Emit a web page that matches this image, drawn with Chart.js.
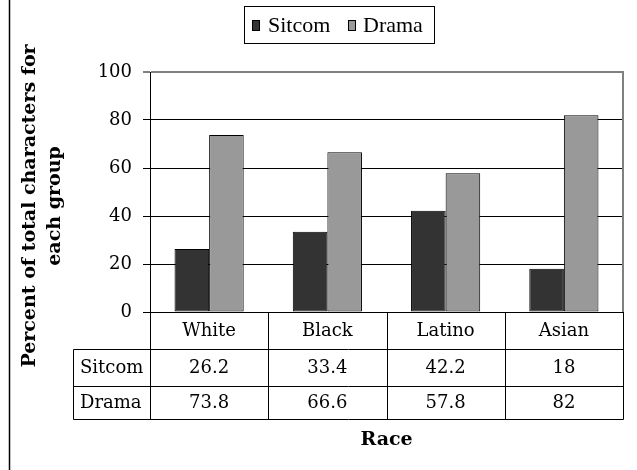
<!DOCTYPE html>
<html>
<head>
<meta charset="utf-8">
<script src="https://cdn.jsdelivr.net/npm/chart.js@4/dist/chart.umd.min.js"></script>
<style>
  html, body { margin: 0; padding: 0; background: #ffffff; }
  canvas { display: block; }
</style>
</head>
<body>
<canvas id="chart" width="637" height="470"></canvas>
<script>
// Share of characters per racial group, sitcoms vs. dramas
const categories = ['White', 'Black', 'Latino', 'Asian'];
const sitcomValues = [26.2, 33.4, 42.2, 18];
const dramaValues = [73.8, 66.6, 57.8, 82];
const seriesNames = ['Sitcom', 'Drama'];
const yTitleLines = ['Percent of total characters for', 'each group'];
const xTitle = 'Race';

const SERIF = '"DejaVu Serif", "Liberation Serif", serif';
const LEGEND_FONT = '"Liberation Serif", "Times New Roman", serif';

// Legend, data table under the axis, axis titles and frame lines
const decorations = {
  id: 'decorations',
  afterDraw(chart) {
    const ctx = chart.ctx;
    const area = chart.chartArea;
    const x = chart.scales.x;
    const ds = chart.data.datasets;

    ctx.save();

    // right edge of the plot area
    ctx.strokeStyle = '#808080';
    ctx.lineWidth = 2;
    ctx.beginPath();
    ctx.moveTo(area.right, area.top - 1);
    ctx.lineTo(area.right, area.bottom);
    ctx.stroke();

    // data table
    const rowH = [37, 37, 33];
    const headerBottom = area.bottom + rowH[0];
    const row1Bottom = headerBottom + rowH[1];
    const tableBottom = row1Bottom + rowH[2];
    const labelLeft = 73.5;
    const edges = [];
    for (let i = 0; i <= categories.length; i++) {
      const px = i === 0 ? area.left
        : i === categories.length ? area.right
        : (x.getPixelForValue(i - 1) + x.getPixelForValue(i)) / 2;
      edges.push(Math.round(px) + 0.5);
    }

    ctx.strokeStyle = '#000000';
    ctx.lineWidth = 1;
    ctx.beginPath();
    // horizontal rules
    [headerBottom, row1Bottom, tableBottom].forEach(yy => {
      ctx.moveTo(labelLeft, Math.round(yy) + 0.5);
      ctx.lineTo(edges[edges.length - 1], Math.round(yy) + 0.5);
    });
    // vertical rules
    edges.forEach((ex, i) => {
      ctx.moveTo(ex, i === 0 ? area.top : area.bottom);
      ctx.lineTo(ex, Math.round(tableBottom) + 0.5);
    });
    ctx.moveTo(labelLeft, Math.round(headerBottom) + 0.5);
    ctx.lineTo(labelLeft, Math.round(tableBottom) + 0.5);
    ctx.stroke();

    ctx.fillStyle = '#000000';
    ctx.font = '18px ' + SERIF;
    ctx.textBaseline = 'middle';
    ctx.textAlign = 'center';
    const yHeader = (area.bottom + headerBottom) / 2 + 1;
    const yRow1 = (headerBottom + row1Bottom) / 2 + 1;
    const yRow2 = (row1Bottom + tableBottom) / 2 + 1;
    categories.forEach((c, i) => {
      const cx = x.getPixelForValue(i);
      ctx.fillText(c, cx, yHeader);
      ctx.fillText(String(ds[0].data[i]), cx, yRow1);
      ctx.fillText(String(ds[1].data[i]), cx, yRow2);
    });
    ctx.textAlign = 'left';
    ctx.fillText(ds[0].label, 80, yRow1);
    ctx.fillText(ds[1].label, 80, yRow2);

    // x axis title
    ctx.font = 'bold 19px ' + SERIF;
    ctx.textAlign = 'center';
    ctx.fillText(xTitle, (area.left + area.right) / 2, 440);

    // y axis title (two rotated lines)
    ctx.save();
    ctx.translate(30, 206);
    ctx.rotate(-Math.PI / 2);
    ctx.font = 'bold 19px ' + SERIF;
    ctx.fillText(yTitleLines[0], 0, 0);
    ctx.fillText(yTitleLines[1], 0, 25);
    ctx.restore();

    // legend box
    ctx.lineWidth = 1;
    ctx.strokeStyle = '#000000';
    ctx.fillStyle = '#ffffff';
    ctx.fillRect(244.5, 6.5, 190, 37);
    ctx.strokeRect(244.5, 6.5, 190, 37);
    ctx.font = '22px ' + LEGEND_FONT;
    ctx.textAlign = 'left';
    ctx.textBaseline = 'middle';
    const items = [{ sx: 252.5, tx: 268 }, { sx: 348.5, tx: 363 }];
    items.forEach((it, i) => {
      ctx.fillStyle = ds[i].backgroundColor;
      ctx.fillRect(it.sx, 20.5, 7, 10);
      ctx.strokeRect(it.sx, 20.5, 7, 10);
      ctx.fillStyle = '#000000';
      ctx.fillText(ds[i].label, it.tx, 26);
    });

    // outer frame edge on the left
    ctx.strokeStyle = '#000000';
    ctx.lineWidth = 1.5;
    ctx.beginPath();
    ctx.moveTo(9.5, 0);
    ctx.lineTo(9.5, 470);
    ctx.stroke();

    ctx.restore();
  }
};

new Chart(document.getElementById('chart'), {
  type: 'bar',
  data: {
    labels: categories,
    datasets: [
      {
        label: seriesNames[0],
        data: sitcomValues,
        backgroundColor: '#333333',
        borderColor: '#000000',
        borderWidth: 1,
        borderSkipped: false
      },
      {
        label: seriesNames[1],
        data: dramaValues,
        backgroundColor: '#999999',
        borderColor: '#000000',
        borderWidth: 1,
        borderSkipped: false
      }
    ]
  },
  options: {
    responsive: false,
    animation: false,
    events: [],
    datasets: {
      bar: { categoryPercentage: 0.585, barPercentage: 1.0 }
    },
    layout: { padding: { top: 72, right: 14, left: 0, bottom: 0 } },
    plugins: {
      legend: { display: false },
      tooltip: { enabled: false }
    },
    scales: {
      x: {
        ticks: { display: false },
        grid: { display: false },
        border: { display: true, color: '#000000', width: 1 },
        afterFit(scale) { scale.height = 158; }
      },
      y: {
        min: 0,
        max: 100,
        ticks: {
          stepSize: 20,
          color: '#000000',
          padding: 11,
          font: { family: SERIF, size: 18 }
        },
        grid: {
          color: c => (c.tick && c.tick.value === 100 ? '#808080' : '#000000'),
          lineWidth: c => (c.tick && c.tick.value === 100 ? 2 : 1),
          tickColor: '#000000',
          tickLength: 7,
          tickWidth: 1
        },
        border: { display: true, color: '#000000', width: 1 },
        afterFit(scale) { scale.width = 150; }
      }
    }
  },
  plugins: [decorations]
});
</script>
</body>
</html>
